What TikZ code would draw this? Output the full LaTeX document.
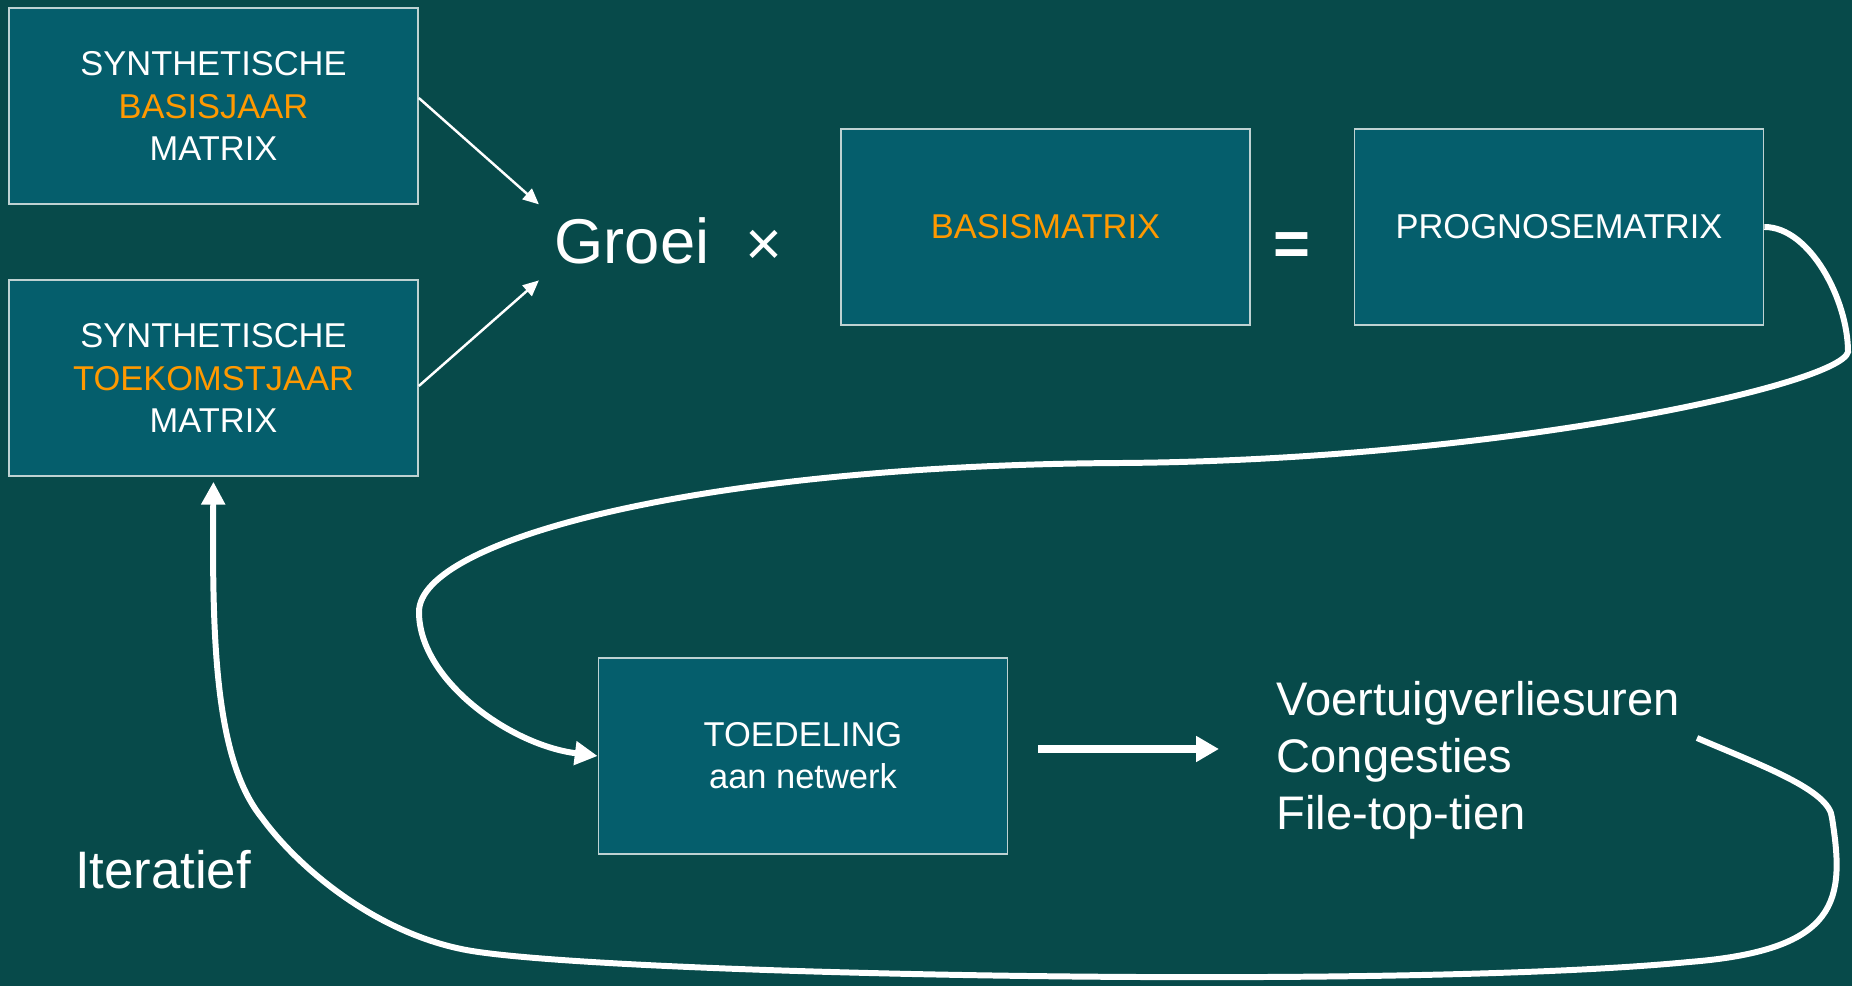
\documentclass[tikz,border=0pt]{standalone}
\usepackage{fontspec}
\setmainfont{Liberation Sans}
\usetikzlibrary{arrows.meta,positioning}
\definecolor{bgteal}{RGB}{7,74,74}
\definecolor{boxteal}{RGB}{5,94,108}
\definecolor{boxedge}{RGB}{190,210,210}
\definecolor{matorange}{RGB}{255,153,0}
\tikzset{font=\fontsize{9.8}{12}\selectfont}
\tikzset{matbox/.style={draw=boxedge, line width=0.4pt, fill=boxteal, text=white,
    minimum width=4.09cm, minimum height=1.96cm, align=center, inner sep=0pt}}
\tikzset{bigtext/.style={text=white, inner sep=0pt, anchor=base,
    font=\fontsize{18}{22}\selectfont}}
\tikzset{thinarrow/.style={white, line width=0.7pt, -{Triangle[length=4.5pt,width=4pt]}}}
\tikzset{fatarrow/.style={white, line width=2pt, -{Triangle[length=6.5pt,width=7pt]}}}
\tikzset{loopline/.style={white, line width=1.7pt, -{Triangle[length=6.5pt,width=6.5pt]}}}

\begin{document}
\begin{tikzpicture}[x=0.01cm, y=-0.01cm]
  \fill[bgteal] (0,0) rectangle (1852,986);
  \useasboundingbox (0,0) rectangle (1852,986);

  \node[matbox] (synbase) at (213.5,106)
    {SYNTHETISCHE\\{\color{matorange}BASISJAAR}\\MATRIX};
  \node[matbox] (synfuture) at (213.5,378)
    {SYNTHETISCHE\\{\color{matorange}TOEKOMSTJAAR}\\MATRIX};
  \node[bigtext] (groei) at (632,264) {Groei};
  \node[bigtext] (times) at (763.5,266) {×};
  \node[matbox, text=matorange] (basis) at (1045.5,227) {BASISMATRIX};
  \node[bigtext, font=\fontsize{18}{22}\selectfont\bfseries] (equals) at (1292,266) {=};
  \node[matbox] (prognose) at (1559,227) {PROGNOSEMATRIX};
  \node[matbox] (toedeling) at (803,756) {TOEDELING\\aan netwerk};
  \node[text=white, align=left, anchor=west, inner sep=0pt,
    font=\fontsize{13.4}{16.2}\selectfont] (results) at (1276,760)
    {Voertuigverliesuren\\Congesties\\File-top-tien};
  \node[text=white, anchor=base, inner sep=0pt,
    font=\fontsize{15}{18}\selectfont] (iter) at (163,888) {Iteratief};
  \coordinate (loopstart) at (1697,738);

  \draw[thinarrow] ([yshift=0.08cm]synbase.east)
    -- ([xshift=-0.15cm,yshift=0.37cm]groei.west);
  \draw[thinarrow] ([yshift=-0.08cm]synfuture.east)
    -- ([xshift=-0.15cm,yshift=-0.39cm]groei.west);
  \draw[fatarrow, shorten <=0.3cm, shorten >=0.57cm] ([yshift=0.07cm]toedeling.east)
    -- ([yshift=0.07cm]toedeling.east -| results.west);
% prognose naar toedeling
  \draw[loopline] (prognose.east) .. controls (1810,227) and (1848,300) .. (1848,352)
    .. controls (1840,385) and (1500,460) .. (1122,463)
    .. controls (700,465) and (419,540) .. (419,612)
    .. controls (419,680) and (510,745) .. (toedeling.west);
% terug naar toekomstjaar
  \draw[loopline, shorten >=0.05cm] (loopstart) .. controls (1760,765) and (1830,790) .. (1832,818)
    .. controls (1845,900) and (1840,950) .. (1689,962)
    .. controls (1400,990) and (620,975) .. (472,951)
    .. controls (380,936) and (300,870) .. (262,818)
    .. controls (215,760) and (212,640) .. (synfuture.south);
\end{tikzpicture}
\end{document}
